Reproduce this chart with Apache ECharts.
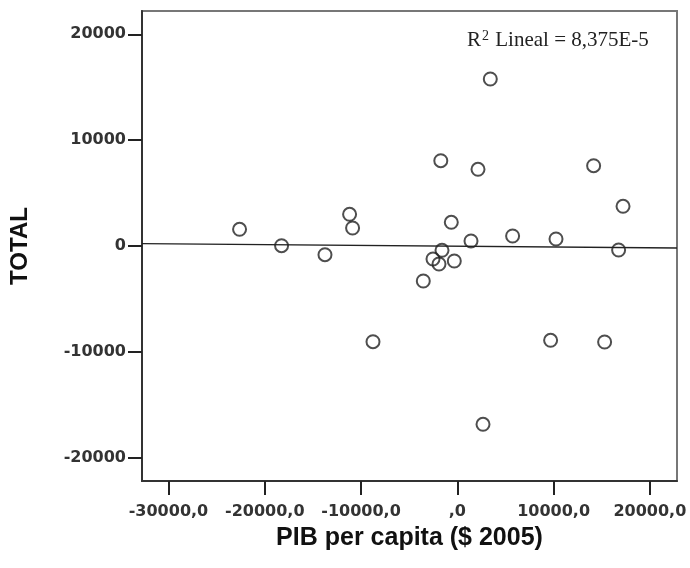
<!DOCTYPE html>
<html>
<head>
<meta charset="utf-8">
<script src="https://cdn.jsdelivr.net/npm/echarts@6/dist/echarts.min.js"></script>
<style>
  html, body { margin: 0; padding: 0; background: #fff; }
  #chart { width: 690px; height: 568px; }
</style>
</head>
<body>
<div id="chart"></div>
<script>
// data (PIB per capita vs TOTAL)
var pibX = [-22616, -18253, -13744, -11188, -10877, -8757, -3532, -2524, -1901, -1714, -1589, -623,
            -312, 1423, 2150, 2670, 3428, 5745, 9692, 10253, 14160, 15302, 16756, 17214];
var totalY = [1578, 28, -822, 2995, 1701, -9041, -3307, -1228, -1701, 8059, -406, 2239,
              -1417, 472, 7246, -16845, 15777, 945, -8909, 661, 7586, -9069, -378, 3751];

// fit line ends (R2 lineal)
var fitX = [-32750, 22820];
var fitY = [230, -190];

var xTicks = [-30000, -20000, -10000, 0, 10000, 20000];
var xTickLabels = ['-30000,0', '-20000,0', '-10000,0', ',0', '10000,0', '20000,0'];
var yTicks = [-20000, -10000, 0, 10000, 20000];
var yTickLabels = ['-20000', '-10000', '0', '10000', '20000'];

var points = pibX.map(function (x, i) { return [x, totalY[i]]; });
var fitLine = fitX.map(function (x, i) { return [x, fitY[i]]; });

var myChart = echarts.init(document.getElementById('chart'));

var tickFont = { fontFamily: 'DejaVu Sans', fontWeight: 'bold', fontSize: 16, color: '#333' };

var option = {
  animation: false,
  backgroundColor: '#fff',
  title: {
    text: '{r|R}{s|2}{r| Lineal = 8,375E-5}',
    left: 462,
    top: 24,
    textStyle: {
      fontWeight: 'normal',
      rich: {
        r: { fontFamily: 'Liberation Serif', fontWeight: 'normal', fontSize: 21, color: '#222', lineHeight: 22 },
        s: { fontFamily: 'Liberation Serif', fontWeight: 'normal', fontSize: 14, color: '#222', verticalAlign: 'top', lineHeight: 12, padding: [0, 1, 0, 1] }
      }
    }
  },
  grid: {
    left: 142, right: 13, top: 11, bottom: 87,
    show: true, borderColor: '#777', borderWidth: 2
  },
  xAxis: {
    type: 'value',
    min: -32750, max: 22820,
    name: 'PIB per capita ($ 2005)',
    nameLocation: 'middle',
    nameGap: 45,
    nameTextStyle: { fontFamily: 'Liberation Sans', fontWeight: 'bold', fontSize: 25, color: '#111' },
    splitLine: { show: false },
    axisLine: { onZero: false, lineStyle: { color: '#333', width: 2 } },
    axisTick: { customValues: xTicks, length: 14, lineStyle: { color: '#222', width: 2 } },
    axisLabel: Object.assign({
      customValues: xTicks,
      margin: 23,
      formatter: function (v) { return xTickLabels[xTicks.indexOf(v)]; }
    }, tickFont)
  },
  yAxis: {
    type: 'value',
    min: -22200, max: 22200,
    name: 'TOTAL',
    nameLocation: 'middle',
    nameGap: 110,
    nameTextStyle: { fontFamily: 'Liberation Sans', fontWeight: 'bold', fontSize: 24, color: '#111' },
    splitLine: { show: false },
    axisLine: { onZero: false, lineStyle: { color: '#333', width: 2 } },
    axisTick: { customValues: yTicks, length: 14, lineStyle: { color: '#222', width: 2 } },
    axisLabel: Object.assign({
      customValues: yTicks,
      margin: 16,
      formatter: function (v) { return yTickLabels[yTicks.indexOf(v)]; }
    }, tickFont)
  },
  series: [
    {
      type: 'line',
      data: fitLine,
      symbol: 'none',
      lineStyle: { color: '#222', width: 1.3 },
      z: 2
    },
    {
      type: 'scatter',
      data: points,
      symbol: 'circle',
      symbolSize: 13,
      itemStyle: { color: 'rgba(0,0,0,0)', borderColor: '#222', borderWidth: 2 },
      z: 3
    }
  ]
};

myChart.setOption(option);
</script>
</body>
</html>
